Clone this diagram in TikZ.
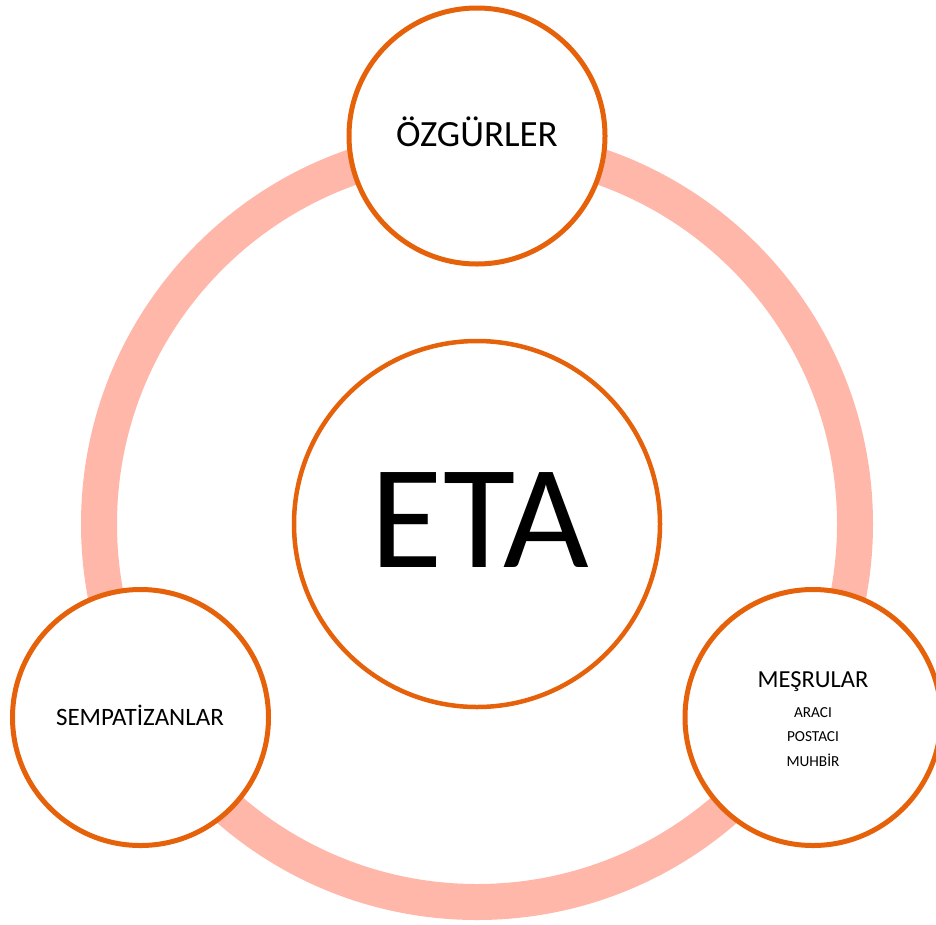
\documentclass[tikz,border=0pt]{standalone}
\usepackage{fontspec}
\setmainfont{Carlito}
\definecolor{ringc}{RGB}{255,183,170}
\definecolor{orng}{RGB}{230,98,10}
\tikzset{
  bubble/.style={circle, draw=orng, fill=white, line width=5pt, inner sep=0pt},
  lbl/.style={anchor=base, inner sep=0pt, text=black},
}
\begin{document}
\begin{tikzpicture}[x=1pt,y=-1pt]
\useasboundingbox (0,0) rectangle (936,924);
\begin{scope}
\clip (0,0) rectangle (936,924);
% ring
\draw[ringc, line width=36pt] (477,524) circle[radius=378];
% circles
\node[bubble, line width=4.5pt, minimum size=366pt] (eta) at (477,524) {};
\node[bubble, minimum size=256pt] (ozg) at (477,136) {};
\node[bubble, minimum size=256pt] (sem) at (140.5,717.5) {};
\node[bubble, minimum size=256pt] (mes) at (813,717.5) {};
\end{scope}
% labels
\node[lbl, font=\fontsize{148}{160}\selectfont] (etat) at (480,567.3) {ETA};
\node[lbl, font=\fontsize{37}{40}\selectfont] (ozgt) at (477,146) {ÖZGÜRLER};
\node[lbl, font=\fontsize{25}{30}\selectfont] (semt) at (140,725.7) {SEMPATİZANLAR};
\node[lbl, font=\fontsize{24.5}{30}\selectfont] (mest) at (813,687.3) {MEŞRULAR};
\node[lbl, font=\fontsize{15.3}{18}\selectfont] (ara) at (813,717.3) {ARACI};
\node[lbl, font=\fontsize{15.3}{18}\selectfont] (pos) at (813,741.7) {POSTACI};
\node[lbl, font=\fontsize{15.3}{18}\selectfont] (muh) at (813,766.7) {MUHBİR};
\end{tikzpicture}
\end{document}
